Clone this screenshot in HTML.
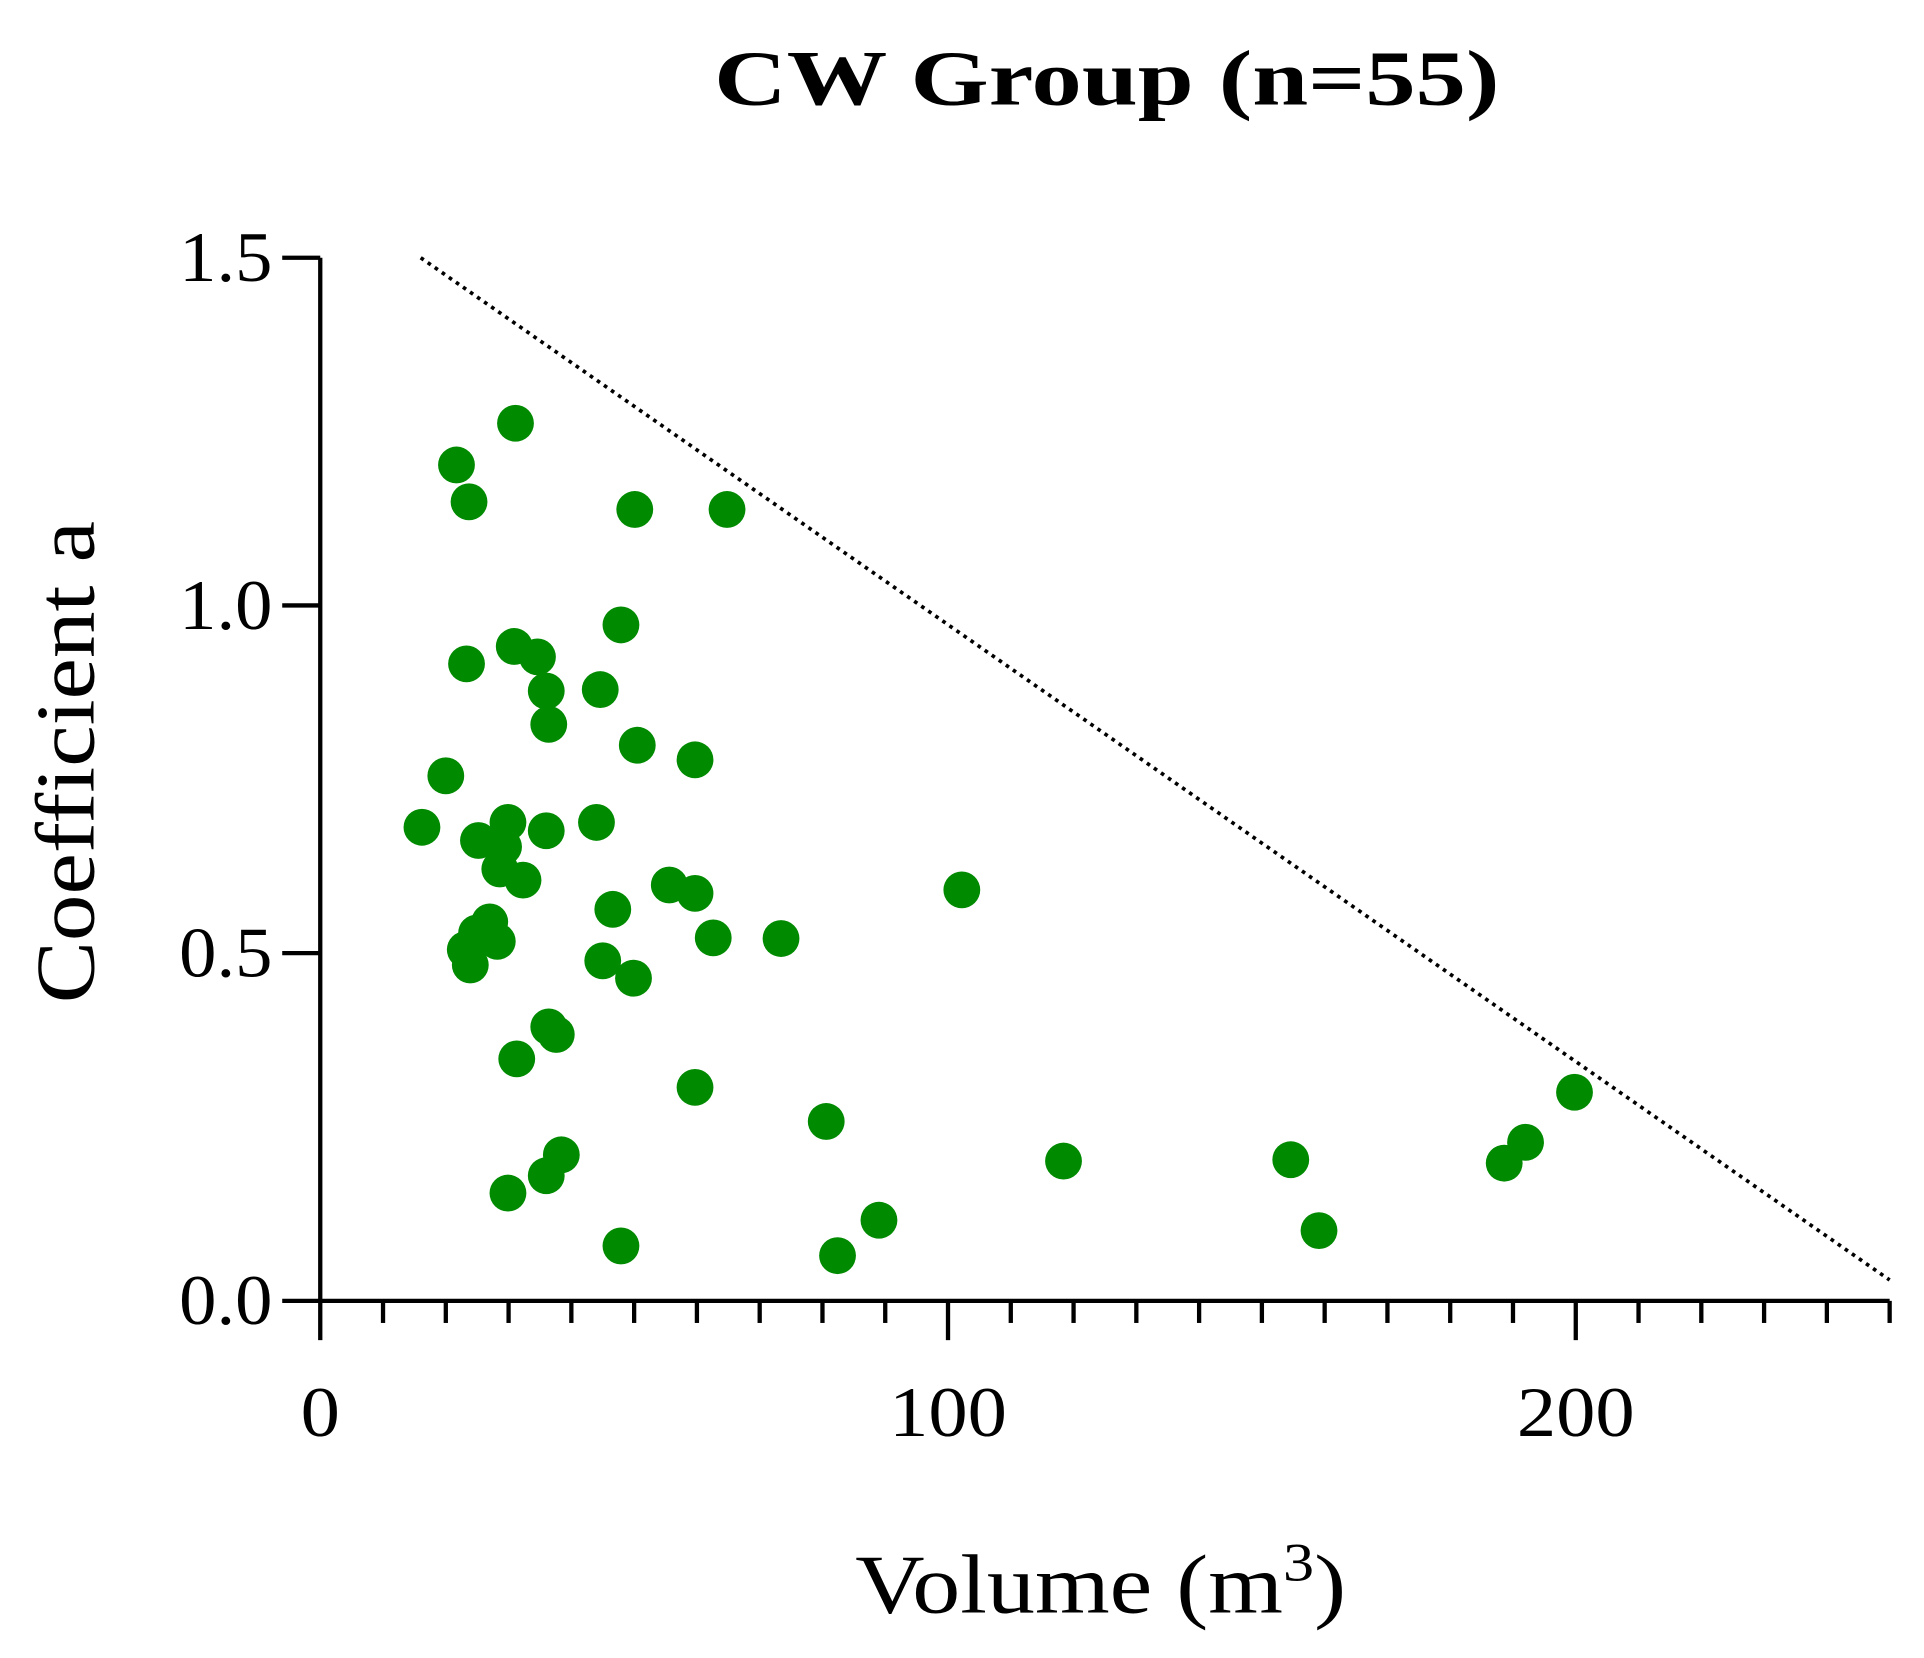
<!DOCTYPE html>
<html><head><meta charset="utf-8"><style>
html,body{margin:0;padding:0;background:#fff;}
svg{display:block;}
text{font-family:"Liberation Serif",serif;fill:#000;}
</style></head><body>
<svg id="chart" width="1924" height="1658" viewBox="0 0 1568 1351" preserveAspectRatio="none" xmlns="http://www.w3.org/2000/svg">
<text x="902" y="85" text-anchor="middle" font-size="64" font-weight="bold" textLength="640" lengthAdjust="spacingAndGlyphs">CW Group (n=55)</text>
<text transform="translate(76,621) rotate(-90)" text-anchor="middle" font-size="68" textLength="393" lengthAdjust="spacingAndGlyphs">Coefficient a</text>
<text x="697" y="1314" font-size="68" textLength="400" lengthAdjust="spacingAndGlyphs">Volume (m<tspan dy="-26" font-size="44">3</tspan><tspan dy="26">)</tspan></text>
<g id="axes"></g>
<g id="marks"></g>
</svg>
<script>
const volumes=[31.1,21.7,23.7,50.1,64.8,47.9,30.9,34.6,23.3,36.0,44.6,36.4,50.5,59.7,20.0,16.2,29.9,44.0,36.0,25.2,29.2,28.6,32.3,55.6,59.7,102.2,46.6,27.0,24.9,28.2,62.6,73.4,23.1,23.9,45.0,49.9,36.4,37.6,31.3,59.7,199.8,80.6,118.4,154.6,192.0,188.6,38.4,36.0,29.9,89.0,159.1,47.9,82.4];
const coefs=[1.262,1.202,1.149,1.138,1.138,0.972,0.941,0.926,0.916,0.877,0.879,0.829,0.799,0.778,0.755,0.681,0.688,0.688,0.676,0.662,0.653,0.621,0.605,0.598,0.586,0.591,0.563,0.545,0.529,0.517,0.522,0.521,0.505,0.483,0.489,0.464,0.394,0.383,0.348,0.307,0.300,0.258,0.201,0.203,0.228,0.198,0.210,0.180,0.155,0.116,0.101,0.079,0.065];
const boundaryX=[16,250];
const boundaryY=[1.5,0.03];
const xTickLabels=[0,100,200];
const yTickLabels=["0.0","0.5","1.0","1.5"];
const yTickValues=[0,0.5,1.0,1.5];

const NS="http://www.w3.org/2000/svg";
const X0=261,X1=1540,Y0=1060,Y1=210;
const xs=v=>X0+(v/250)*(X1-X0);
const ys=v=>Y0-(v/1.5)*(Y0-Y1);
const axes=document.getElementById('axes');
const marks=document.getElementById('marks');
function mk(tag,attrs,parent){const e=document.createElementNS(NS,tag);for(const k in attrs)e.setAttribute(k,attrs[k]);parent.appendChild(e);return e;}

let e=mk('line',{x1:X0,y1:Y0,x2:X1,y2:Y0,stroke:'#000','stroke-width':3.5},axes);


e=mk('line',{x1:X0,y1:Y0+1.5,x2:X0,y2:Y1,stroke:'#000','stroke-width':3.5},axes);


for(let v=0;v<=250;v+=10){
  const major=v%100===0;
  e=mk('line',{x1:xs(v),y1:Y0,x2:xs(v),y2:major?Y0+32:Y0+18,stroke:'#000','stroke-width':3.5},axes);
  
  
}
xTickLabels.forEach(v=>{
  const s=String(v);
  const t=mk('text',{x:xs(v),y:Y0+110,'text-anchor':'middle','font-size':58,textLength:32*s.length,lengthAdjust:'spacingAndGlyphs'},axes);
  t.textContent=s;
  
  
});
yTickValues.forEach((v,i)=>{
  e=mk('line',{x1:X0,y1:ys(v),x2:X0-31,y2:ys(v),stroke:'#000','stroke-width':3.5},axes);
  
  
  const t=mk('text',{x:X0-39,y:ys(v)+19,'text-anchor':'end','font-size':58,textLength:76,lengthAdjust:'spacingAndGlyphs'},axes);
  t.textContent=yTickLabels[i];
  
  
});
e=mk('line',{x1:xs(boundaryX[0]),y1:ys(boundaryY[0]),x2:xs(boundaryX[1]),y2:ys(boundaryY[1]),stroke:'#000','stroke-width':3,'stroke-dasharray':'3 4'},marks);


volumes.forEach((v,i)=>{
  const c=mk('circle',{cx:xs(v),cy:ys(coefs[i]),r:15,fill:'#008a00'},marks);
  
  
});
</script>
</body></html>
